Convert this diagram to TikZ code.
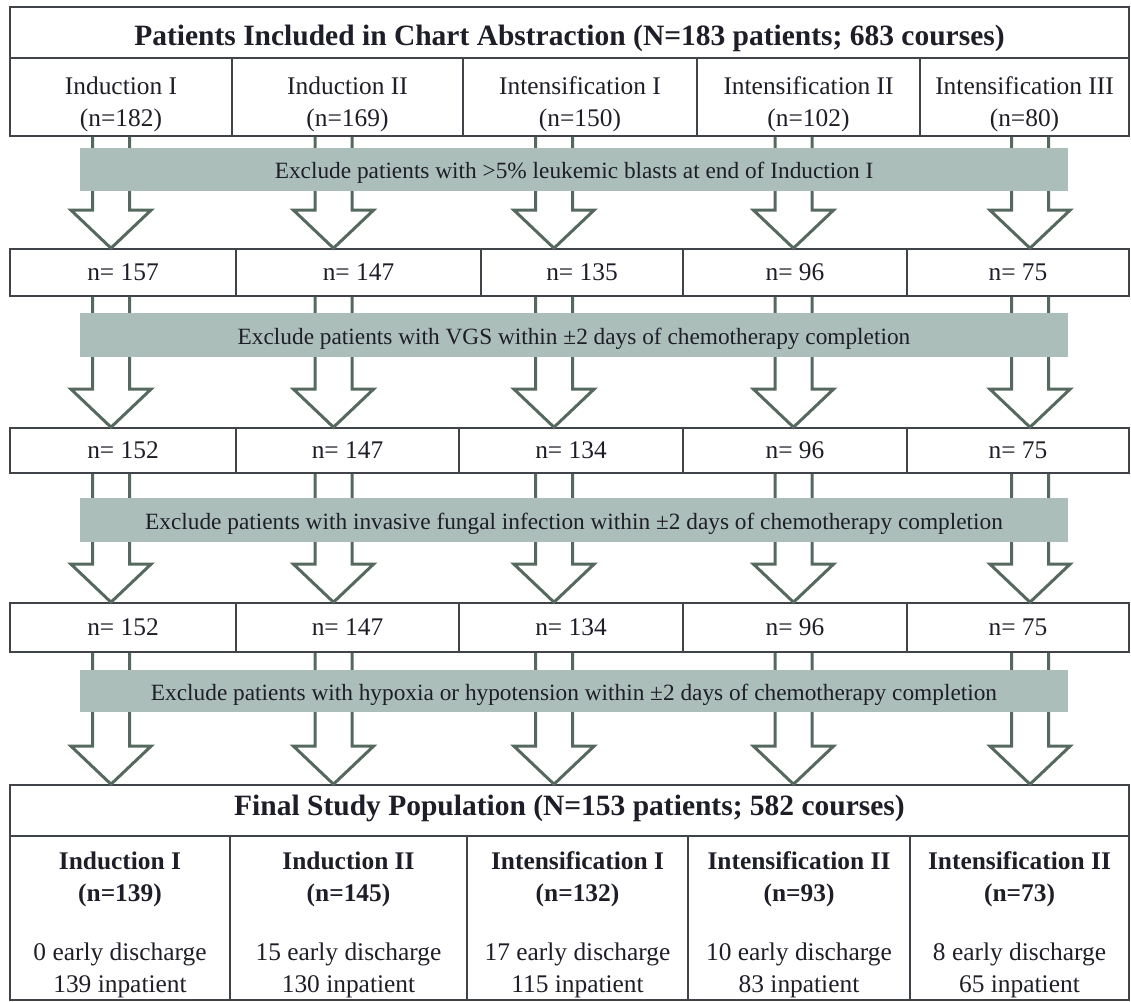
\documentclass[tikz,border=0pt]{standalone}
\usepackage{fontspec}
\setmainfont{Liberation Serif}
\usepackage{tikz}
\usetikzlibrary{positioning,calc}

\definecolor{ink}{HTML}{1E1E28}
\definecolor{edge}{HTML}{404448}
\definecolor{bar}{HTML}{ACBEBA}
\definecolor{stem}{HTML}{56695F}

% hollow block arrow: #1 column coordinate, #2 upper node, #3 lower node
\newcommand{\blockarrow}[3]{%
  \draw[hollow] ($(#1 |- #2.south)+(-18.5,0)$) -- ($(#1 |- #3.north)+(-18.5,-38)$)
    -- ($(#1 |- #3.north)+(-40,-38)$) -- (#1 |- #3.north)
    -- ($(#1 |- #3.north)+(40,-38)$) -- ($(#1 |- #3.north)+(18.5,-38)$)
    -- ($(#1 |- #2.south)+(18.5,0)$);}

\begin{document}
\begin{tikzpicture}[
  x=1bp, y=-1bp,
  every node/.style={font=\fontsize{25.5}{32}\selectfont, text=ink},
  dims/.style 2 args={minimum width=#1bp, minimum height=#2bp},
  cell/.style={draw=edge, line width=1.6bp, inner sep=0pt, align=center},
  pair/.style={cell, text height=63.7bp, text depth=5.5bp},
  quad/.style={cell, text height=154.7bp, text depth=5.5bp},
  head/.style={cell, font=\fontsize{29.6}{34}\selectfont\bfseries, text depth=6.5bp},
  excl/.style={fill=bar, inner sep=0pt, font=\fontsize{23.4}{28}\selectfont, text height=23.5bp, text depth=5.2bp},
  hollow/.style={draw=stem, line width=3bp, line join=miter}
]
\useasboundingbox (0,0) rectangle (1131,1002);
% Arrow columns
\coordinate (col1) at (111,0);
\coordinate (col2) at (333.5,0);
\coordinate (col3) at (554,0);
\coordinate (col4) at (793.5,0);
\coordinate (col5) at (1030,0);
% Chart abstraction
\node[head, text height=33bp, dims={1119}{51}] (chart) at (569.5,32.5) {Patients Included in Chart Abstraction (N=183 patients; 683 courses)};
\node[pair, dims={222}{78}] (c1) at (121,97) {Induction I\\(n=182)};
\node[pair, dims={231}{78}] (c2) at (347.5,97) {Induction II\\(n=169)};
\node[pair, dims={234}{78}] (c3) at (580,97) {Intensification I\\(n=150)};
\node[pair, dims={223}{78}] (c4) at (808.5,97) {Intensification II\\(n=102)};
\node[pair, dims={209}{78}] (c5) at (1024.5,97) {Intensification III\\(n=80)};
% After blasts
\node[cell, dims={226}{47}] (a1) at (123,272.5) {n= 157};
\node[cell, dims={245}{47}] (a2) at (358.5,272.5) {n= 147};
\node[cell, dims={202}{47}] (a3) at (582,272.5) {n= 135};
\node[cell, dims={224}{47}] (a4) at (795,272.5) {n= 96};
\node[cell, dims={222}{47}] (a5) at (1018,272.5) {n= 75};
% After VGS
\node[cell, dims={226}{45}] (b1) at (123,450.5) {n= 152};
\node[cell, dims={223}{45}] (b2) at (347.5,450.5) {n= 147};
\node[cell, dims={224}{45}] (b3) at (571,450.5) {n= 134};
\node[cell, dims={224}{45}] (b4) at (795,450.5) {n= 96};
\node[cell, dims={222}{45}] (b5) at (1018,450.5) {n= 75};
% After fungal infection
\node[cell, dims={226}{49}] (f1) at (123,627.5) {n= 152};
\node[cell, dims={223}{49}] (f2) at (347.5,627.5) {n= 147};
\node[cell, dims={224}{49}] (f3) at (571,627.5) {n= 134};
\node[cell, dims={224}{49}] (f4) at (795,627.5) {n= 96};
\node[cell, dims={222}{49}] (f5) at (1018,627.5) {n= 75};
% Final study population
\node[head, text height=15.5bp, dims={1119}{51}] (final) at (569.5,810.5) {Final Study Population (N=153 patients; 582 courses)};
\node[quad, dims={220}{164}] (s1) at (120,918) {\textbf{Induction I}\\\textbf{(n=139)}\\[27bp]0 early discharge\\139 inpatient};
\node[quad, dims={237}{164}] (s2) at (348.5,918) {\textbf{Induction II}\\\textbf{(n=145)}\\[27bp]15 early discharge\\130 inpatient};
\node[quad, dims={221}{164}] (s3) at (577.5,918) {\textbf{Intensification I}\\\textbf{(n=132)}\\[27bp]17 early discharge\\115 inpatient};
\node[quad, dims={222}{164}] (s4) at (799,918) {\textbf{Intensification II}\\\textbf{(n=93)}\\[27bp]10 early discharge\\83 inpatient};
\node[quad, dims={219}{164}] (s5) at (1019.5,918) {\textbf{Intensification II}\\\textbf{(n=73)}\\[27bp]8 early discharge\\65 inpatient};
% Arrows
\foreach \up/\down in {c/a, a/b, b/f}
  \foreach \k in {1,...,5}
    {\blockarrow{col\k}{\up\k}{\down\k}}
\foreach \k in {1,...,5}
  {\blockarrow{col\k}{f\k}{final}}
% Exclusion bars
\node[excl, dims={988}{43}] (ex1) at (574,169.5) {Exclude patients with >5\% leukemic blasts at end of Induction I};
\node[excl, dims={988}{44}] (ex2) at (574,335) {Exclude patients with VGS within ±2 days of chemotherapy completion};
\node[excl, dims={988}{44}] (ex3) at (574,520) {Exclude patients with invasive fungal infection within ±2 days of chemotherapy completion};
\node[excl, dims={988}{42}] (ex4) at (574,691) {Exclude patients with hypoxia or hypotension within ±2 days of chemotherapy completion};
\end{tikzpicture}
\end{document}
